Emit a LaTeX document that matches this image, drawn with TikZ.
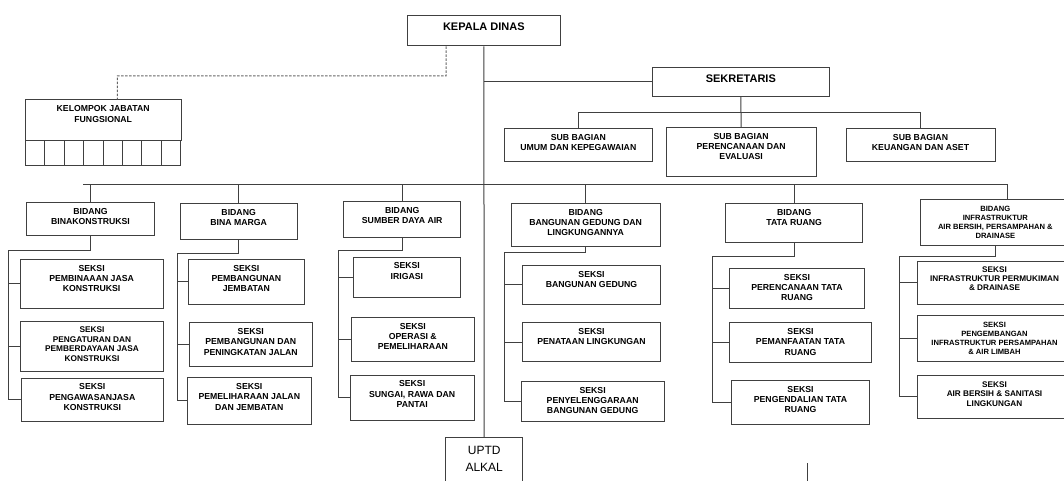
\documentclass[tikz,border=0pt]{standalone}
\usepackage{fontspec}
\setmainfont{Liberation Sans}

\begin{document}
\begin{tikzpicture}[x=1pt, y=-1pt,
  unit/.style={draw=black!75, line width=1pt, rectangle, inner sep=0pt},
  lbl/.style={anchor=north, align=center, inner sep=0pt, yshift=-6pt, text=black, font=\bfseries\fontsize{8.7}{10.3}\selectfont},
  ttl/.style={label={[lbl]north:{#1}}},
  ttlsmall/.style={label={[lbl, font=\bfseries\fontsize{7.6}{9}\selectfont, yshift=-1pt]north:{#1}}},
  ttlbig/.style={label={[lbl, font=\bfseries\fontsize{11}{13}\selectfont, yshift=-1.5pt]north:{#1}}},
  cell/.style={draw=black!75, line width=1pt, minimum width=19.43, minimum height=25, inner sep=0pt},
  link/.style={draw=black!75, line width=1pt}]
	\fill[white] (0,0) rectangle (1064,481);
	\useasboundingbox (0,0) rectangle (1064,481);

	% pimpinan
	\node (kd) [unit, minimum width=152.3, minimum height=30.7, ttlbig={KEPALA DINAS}] at (483.85,30.65) {};
	\node (sek) [unit, minimum width=177, minimum height=29, ttlbig={SEKRETARIS}] at (740.8,81.8) {};
	\node (kjf) [unit, minimum width=155.7, minimum height=40.7, ttl={KELOMPOK JABATAN\\FUNGSIONAL}] at (103.15,120.35) {};
	\foreach \i in {0,...,7}
		\node (jf\i) [cell] at ({35.02+19.43*\i},153.2) {};

	% sub bagian
	\node (umum) [unit, minimum width=148, minimum height=33, ttl={SUB BAGIAN\\UMUM DAN KEPEGAWAIAN}] at (578.3,144.8) {};
	\node (peren) [unit, minimum width=149.7, minimum height=48.7, ttl={SUB BAGIAN\\PERENCANAAN DAN\\EVALUASI}] at (741.15,151.65) {};
	\node (keu) [unit, minimum width=149, minimum height=33, ttl={SUB BAGIAN\\KEUANGAN DAN ASET}] at (920.5,144.8) {};

	% bidang
	\node (bk) [unit, minimum width=127.6, minimum height=33.4, ttl={BIDANG\\BINAKONSTRUKSI}] at (90.5,219) {};
	\node (bm) [unit, minimum width=116.7, minimum height=36.4, ttl={BIDANG\\BINA MARGA}] at (238.65,221.5) {};
	\node (sda) [unit, minimum width=117, minimum height=36, ttl={BIDANG\\SUMBER DAYA AIR}] at (402.2,219.3) {};
	\node (bgl) [unit, minimum width=149.3, minimum height=42.7, ttl={BIDANG\\BANGUNAN GEDUNG DAN\\LINGKUNGANNYA}] at (585.65,224.65) {};
	\node (tr) [unit, minimum width=137, minimum height=38.7, ttl={BIDANG\\TATA RUANG}] at (794.2,222.65) {};
	\node (ifr) [unit, minimum width=149.3, minimum height=46.4, ttlsmall={BIDANG\\INFRASTRUKTUR\\AIR BERSIH, PERSAMPAHAN \&\\DRAINASE}] at (995.35,222.5) {};

	% seksi
	\node (bk1) [unit, minimum width=143.3, minimum height=49, ttl={SEKSI\\PEMBINAAAN JASA\\KONSTRUKSI}] at (91.65,283.8) {};
	\node (bk2) [unit, minimum width=142.6, minimum height=49.7, label={[lbl, font=\bfseries\fontsize{8.3}{9.5}\selectfont]north:{SEKSI\\PENGATURAN DAN\\PEMBERDAYAAN JASA\\KONSTRUKSI}}] at (92,346.15) {};
	\node (bk3) [unit, minimum width=142, minimum height=43.3, ttl={SEKSI\\PENGAWASANJASA\\KONSTRUKSI}] at (92.3,399.65) {};

	\node (bm1) [unit, minimum width=115.3, minimum height=45, ttl={SEKSI\\PEMBANGUNAN\\JEMBATAN}] at (246.35,281.8) {};
	\node (bm2) [unit, minimum width=123, minimum height=43.3, ttl={SEKSI\\PEMBANGUNAN DAN\\PENINGKATAN JALAN}] at (250.8,344.35) {};
	\node (bm3) [unit, minimum width=124, minimum height=46.3, ttl={SEKSI\\PEMELIHARAAN JALAN\\DAN JEMBATAN}] at (249.3,400.85) {};

	\node (sda1) [unit, minimum width=107.7, minimum height=40.3, ttl={SEKSI\\IRIGASI}] at (406.85,277.15) {};
	\node (sda2) [unit, minimum width=123, minimum height=44, ttl={SEKSI\\OPERASI \&\\PEMELIHARAAN}] at (412.8,339.3) {};
	\node (sda3) [unit, minimum width=124.3, minimum height=45.7, ttl={SEKSI\\SUNGAI, RAWA DAN\\PANTAI}] at (412.15,397.85) {};

	\node (bgl1) [unit, minimum width=137.6, minimum height=38.7, ttl={SEKSI\\BANGUNAN GEDUNG}] at (591.5,284.65) {};
	\node (bgl2) [unit, minimum width=137.6, minimum height=38.6, ttl={SEKSI\\PENATAAN LINGKUNGAN}] at (591.5,342) {};
	\node (bgl3) [unit, minimum width=142.7, minimum height=39.7, ttl={SEKSI\\PENYELENGGARAAN\\BANGUNAN GEDUNG}] at (592.65,401.15) {};

	\node (tr1) [unit, minimum width=135.4, minimum height=40, ttl={SEKSI\\PERENCANAAN TATA\\RUANG}] at (797,288.3) {};
	\node (tr2) [unit, minimum width=142.4, minimum height=39.3, ttl={SEKSI\\PEMANFAATAN TATA\\RUANG}] at (800.5,342.35) {};
	\node (tr3) [unit, minimum width=137.6, minimum height=44, ttl={SEKSI\\PENGENDALIAN TATA\\RUANG}] at (800.5,402.3) {};

	\node (ifr1) [unit, minimum width=155, minimum height=43, label={[lbl, font=\bfseries\fontsize{8.2}{9.2}\selectfont]north:{SEKSI\\INFRASTRUKTUR PERMUKIMAN\\\& DRAINASE}}] at (994.5,282.5) {};
	\node (ifr2) [unit, minimum width=155, minimum height=45.6, ttlsmall={SEKSI\\PENGEMBANGAN\\INFRASTRUKTUR PERSAMPAHAN\\\& AIR LIMBAH}] at (994.5,338.5) {};
	\node (ifr3) [unit, minimum width=155, minimum height=42.3, label={[lbl, font=\bfseries\fontsize{8.2}{9.5}\selectfont]north:{SEKSI\\AIR BERSIH \& SANITASI\\LINGKUNGAN}}] at (994.5,396.85) {};

	\node (uptd) [unit, minimum width=77, minimum height=52.7, label={[lbl, font=\fontsize{12}{16.7}\selectfont, yshift=-3.4pt]north:{UPTD\\ALKAL}}] at (484.2,463.65) {};

	% garis komando
	\draw[link] (kd.south) -- (uptd.north);
	\draw[link] (sek.west) -- (sek.west -| kd.south);
	\coordinate (jfbend) at (117.3,76);
	\draw[link, draw=black!60, dash pattern=on 2.5pt off 1.5pt] ([xshift=-37.8]kd.south) |- (jfbend) -- ([xshift=14.1]kjf.north);
	\draw[link] (sek.south) -- (peren.north);
	\draw[link] (umum.north) -- ++(0,-15.6) -| (keu.north);

	\coordinate (busL) at (83.3,184);
	\coordinate (busR) at (1007.3,184);
	\draw[link] (busL) -- (busR) -- (busR |- ifr.north);
	\foreach \g in {bk,bm,sda,bgl,tr}
		\draw[link] (\g.north) -- (\g.north |- busL);

	\coordinate (spine-bk) at (8.3,250.7);
	\coordinate (spine-bm) at (177,253.3);
	\coordinate (spine-sda) at (338.3,250.3);
	\coordinate (spine-bgl) at (504.3,252);
	\coordinate (spine-tr) at (712.3,256);
	\coordinate (spine-ifr) at (899.3,256);
	\foreach \g in {bk,bm,sda,bgl,tr,ifr} {
		\draw[link] (\g.south) |- (spine-\g) -- (spine-\g |- \g3.west);
		\foreach \i in {1,2,3}
			\draw[link] (\g\i.west) -- (\g\i.west -| spine-\g);
	}

	\coordinate (tick) at (807.3,463);
	\draw[link] (tick) -- ++(0,20);
\end{tikzpicture}
\end{document}
